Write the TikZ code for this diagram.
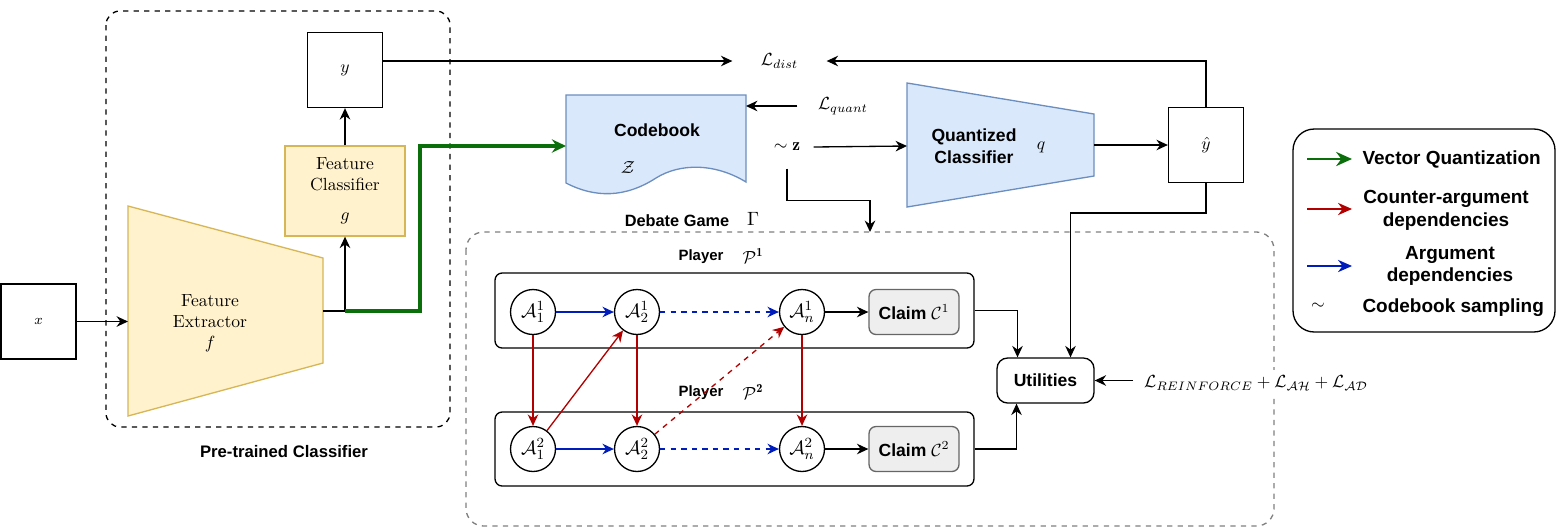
\documentclass[tikz,border=0pt]{standalone}
\usepackage{fontspec}
\setsansfont{Liberation Sans}
\usepackage{tikz}
\usetikzlibrary{arrows.meta,calc}

\begin{document}
\begin{tikzpicture}[x=0.02cm, y=-0.02cm,
  every path/.style={line width=0.75pt},
  >={Stealth[length=6.5pt,width=6pt]},
  conn/.style={->},
  vq/.style={->, draw=vqgreen, line width=1.8pt, >={Stealth[length=8pt,width=7.5pt]}},
  argdep/.style={->, draw=argblue},
  ctrdep/.style={->, draw=ctrred},
  sans/.style={font=\sffamily\bfseries\fontsize{10}{12.5}\selectfont},
  serif/.style={font=\fontsize{10}{12}\selectfont, align=center},
  sq/.style={draw, minimum width=1.5cm, minimum height=1.5cm},
  argnode/.style={draw, circle, fill=white, minimum size=0.9cm, inner sep=0pt, font=\fontsize{11}{13}\selectfont},
  claimbox/.style={sans, draw=cldraw, fill=clfill, rounded corners=4pt, minimum width=1.8cm, minimum height=0.9cm},
  playerbox/.style={draw, rounded corners=4pt, minimum width=9.58cm, minimum height=1.5cm},
  playerlab/.style={font=\sffamily\bfseries\fontsize{8.5}{10}\selectfont},
  legendtxt/.style={font=\sffamily\bfseries\fontsize{10.8}{13}\selectfont, align=center}]

\definecolor{vqgreen}{HTML}{0A6E0A}
\definecolor{argblue}{HTML}{001DBC}
\definecolor{ctrred}{HTML}{B20000}
\definecolor{ylfill}{HTML}{FFF2CC}
\definecolor{yldraw}{HTML}{D6B656}
\definecolor{blfill}{HTML}{DAE8FC}
\definecolor{bldraw}{HTML}{6C8EBF}
\definecolor{clfill}{HTML}{EEEEEE}
\definecolor{cldraw}{HTML}{666666}

\useasboundingbox (0,0) rectangle (1557,528);

\draw[dashed, rounded corners=8pt] (106,11) rectangle (450,427);
\node[sans, font=\sffamily\bfseries\fontsize{9.5}{11}\selectfont] (ptlab) at (284,452) {Pre-trained Classifier};

\draw[dashed, draw=gray, rounded corners=10pt] (466,232) rectangle (1274,526);
\node[sans, font=\sffamily\bfseries\fontsize{9.3}{11}\selectfont] (gmlab) at (677,221) {Debate Game};
\node[font=\fontsize{11}{13}\selectfont] (gmsym) at (753,219) {$\Gamma$};

\node[sq, font=\footnotesize] (x) at (38.5,321.5) {$x$};
\node[sq] (y) at (345,70) {$y$};
\node[sq] (yhat) at (1206,145) {$\hat{y}$};

\filldraw[fill=ylfill, draw=yldraw] (128,206) -- (323,258) -- (323,363) -- (128,416) -- cycle;
\node[serif] (fe) at (210,323) {Feature\\Extractor\\$f$};
\node[serif, draw=yldraw, fill=ylfill, minimum width=2.4cm, minimum height=1.8cm] (fc) at (345,191) {Feature\\Classifier\\[5pt]$g$};
\coordinate (fe-in) at (128,321.5);
\coordinate (fe-out) at (323,311);
\coordinate (fe-split) at (345,311);

\filldraw[fill=blfill, draw=bldraw] (566,95) -- (746,95) -- (746,182) .. controls (715,163) and (680,163) .. (656,178) .. controls (625,198) and (595,198) .. (566,183) -- cycle;
\node[sans] (cb) at (657,130) {Codebook};
\node (cbz) at (628,167) {$\mathcal{Z}$};
\coordinate (cb-in) at (566,146);
\coordinate (cb-q) at (746,106);
\coordinate (vq-bend) at (420,146);

\filldraw[fill=blfill, draw=bldraw] (907,83) -- (1094,114) -- (1094,176) -- (907,207) -- cycle;
\node[sans, align=center] (qc) at (974,146) {Quantized\\Classifier};
\node (qcq) at (1041,147) {$q$};
\coordinate (qc-in) at (907,146);
\coordinate (qc-out) at (1094,145);

\node[minimum width=1.86cm, inner sep=0pt] (ldist) at (779.5,61) {$\mathcal{L}_{dist}$};
\node[minimum width=1.8cm, inner sep=0pt] (lquant) at (843,106) {$\mathcal{L}_{quant}$};
\node[minimum width=1.04cm, minimum height=0.84cm, inner sep=0pt] (z) at (787,147) {$\sim\mathbf{z}$};
\coordinate (gm-in) at (870,232);

\draw[conn] (x) -- (fe-in);
\draw (fe-out) -- (fe-split);
\draw[conn] (fe-split) -- (fc);
\draw[conn] (fc) -- (y);
\draw[vq] (fe-split) -| (vq-bend) -- (cb-in);
\draw[conn] (y.north east |- ldist) -- (ldist.west);
\draw[conn] (yhat.north) |- (ldist.east);
\draw[conn] (lquant.west) -- (cb-q);
\draw[conn] (z.east) -- (qc-in);
\draw[conn] (z.south) -- ++(0,32) -| (gm-in);
\draw[conn] (qc-out) -- (yhat);

\node[playerlab] (p1lab) at (701,257) {Player};
\node (p1sym) at (753,256) {$\mathcal{P}^{\mathbf{1}}$};
\node[playerlab] (p2lab) at (701,393) {Player};
\node (p2sym) at (753,392) {$\mathcal{P}^{\mathbf{2}}$};

\node[playerbox] (p1) at (734.5,310.5) {};
\node[playerbox, minimum height=1.48cm] (p2) at (734.5,449) {};

\node[argnode] (a11) at (533,312) {$\mathcal{A}_1^1$};
\node[argnode] (a21) at (637,312) {$\mathcal{A}_2^1$};
\node[argnode] (an1) at (802,312) {$\mathcal{A}_n^1$};
\node[claimbox] (c1) at (914,312) {Claim $\mathcal{C}^1$};
\node[argnode] (a12) at (533,449) {$\mathcal{A}_1^2$};
\node[argnode] (a22) at (637,449) {$\mathcal{A}_2^2$};
\node[argnode] (an2) at (802,449) {$\mathcal{A}_n^2$};
\node[claimbox] (c2) at (914,449) {Claim $\mathcal{C}^2$};

\draw[argdep] (a11) -- (a21);
\draw[argdep, dashed] (a21) -- (an1);
\draw[conn] (an1) -- (c1);
\draw[argdep] (a12) -- (a22);
\draw[argdep, dashed] (a22) -- (an2);
\draw[conn] (an2) -- (c2);
\draw[ctrdep] (a11) -- (a12);
\draw[ctrdep] (a21) -- (a22);
\draw[ctrdep] (an1) -- (an2);
\draw[ctrdep] (a12) -- (a21);
\draw[ctrdep, dashed] (a22) -- (an1);

\node[sans, draw, rounded corners=6pt, minimum width=1.94cm, minimum height=0.9cm] (ut) at (1045.5,380.5) {Utilities};
\node[fill=white, inner xsep=6pt] (lrf) at (1256,383) {$\mathcal{L}_{REINFORCE}+\mathcal{L}_{\mathcal{AH}}+\mathcal{L}_{\mathcal{AD}}$};
\draw[conn] (p1.east) -| ($(ut.north)+(-28,0)$);
\draw[conn] (p2.east) -| ($(ut.south)+(-29,0)$);
\draw[conn] (yhat.south) -- ++(0,30) -| ($(ut.north)+(25,0)$);
\draw[conn] (lrf.west |- ut) -- (ut.east);

\node[draw, rounded corners=12pt, minimum width=5.24cm, minimum height=4.06cm] (legend) at (1424,230.5) {};
\coordinate (lg1a) at (1307,159); \coordinate (lg1b) at (1352,159);
\coordinate (lg2a) at (1307,209); \coordinate (lg2b) at (1352,209);
\coordinate (lg3a) at (1307,266); \coordinate (lg3b) at (1352,266);
\draw[vq, line width=1.5pt, >={Stealth[length=9pt,width=8pt]}] (lg1a) -- (lg1b);
\draw[ctrdep, >={Stealth[length=8pt,width=7pt]}] (lg2a) -- (lg2b);
\draw[argdep, >={Stealth[length=8pt,width=7pt]}] (lg3a) -- (lg3b);
\node[legendtxt, anchor=west] (lg1) at (1356,159) {Vector Quantization};
\node[legendtxt] (lg2) at (1446,210) {Counter-argument\\dependencies};
\node[legendtxt] (lg3) at (1450,266) {Argument\\dependencies};
\node (lg4s) at (1318,306) {$\sim$};
\node[legendtxt, anchor=west] (lg4) at (1356,308) {Codebook sampling};

\end{tikzpicture}
\end{document}
